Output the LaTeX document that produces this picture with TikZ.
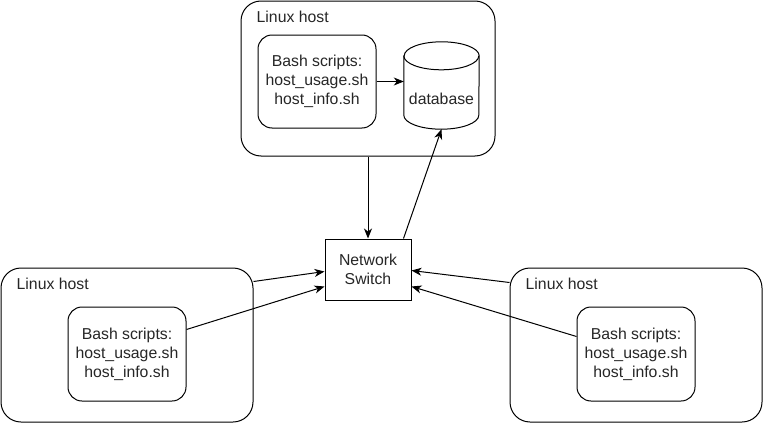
\documentclass[tikz,border=0pt]{standalone}
\usepackage{fontspec}
\setmainfont{Liberation Sans}
\usetikzlibrary{calc,arrows.meta}
\begin{document}
\begin{tikzpicture}[x=1pt,y=-1pt,
  every node/.style={font=\fontsize{15.8}{19}\selectfont, text=black!85},
  host/.style={draw, line width=1pt, rounded corners=20pt, minimum width=#1, minimum height=154pt, inner sep=0pt},
  bash/.style={draw, line width=1pt, rounded corners=14pt, minimum width=118pt, minimum height=93pt, align=center, inner sep=0pt},
  swbox/.style={draw, line width=1pt, minimum width=86pt, minimum height=61pt, align=center, inner sep=0pt},
  lbl/.style={anchor=west, inner sep=0pt},
  conn/.style={line width=1pt, -{Stealth[length=10pt,width=8pt,inset=3pt]}}
]
\useasboundingbox (0,0) rectangle (763,423);

% hosts
\node[host=254pt, minimum height=155pt] (th) at (368,78.5) {};
\node[host=252pt] (lh) at (127,345) {};
\node[host=252pt] (rh) at (636,345) {};

\node[lbl] at ($(th.north west)+(16,16)$) {Linux host};
\node[lbl] at ($(lh.north west)+(16,16)$) {Linux host};
\node[lbl] at ($(rh.north west)+(16,16)$) {Linux host};

% bash boxes
\node[bash] (tb) at (317,81.5) {Bash scripts:\\host\_usage.sh\\host\_info.sh};
\node[bash, minimum height=94pt] (lb) at (127,354) {Bash scripts:\\host\_usage.sh\\host\_info.sh};
\node[bash, minimum height=94pt] (rb) at (636,354) {Bash scripts:\\host\_usage.sh\\host\_info.sh};

% database cylinder
\node[minimum width=75pt, minimum height=87pt, inner sep=0pt] (db) at (441.5,85.5) {};
\draw[line width=1pt, fill=white]
  ($(db.north west)+(0,14)$) -- ($(db.south west)+(0,-14)$)
  arc[start angle=180, end angle=360, x radius=37.5pt, y radius=14pt]
  -- ($(db.north east)+(0,14)$)
  arc[start angle=0, end angle=180, x radius=37.5pt, y radius=14pt] -- cycle;
\draw[line width=1pt] ($(db.north west)+(0,14)$)
  arc[start angle=180, end angle=360, x radius=37.5pt, y radius=14pt];
\node at ($(db.center)+(0,13)$) {database};

% switch
\node[swbox] (sw) at (368,269.5) {Network\\Switch};

% connectors
\draw[conn] (tb.east) -- (tb.east -| db.west);
\draw[conn] (th.south) -- (sw.north);
\draw[conn] ($(sw.north east)+(-8,0)$) -- (db.south);
\draw[conn] ($(lh.north east)+(0,14)$) -- ($(sw.north west)+(0,33)$);
\draw[conn] ($(lb.north east)+(0,23)$) -- ($(sw.north west)+(0,48)$);
\draw[conn] ($(rh.north west)+(0,15)$) -- ($(sw.north east)+(0,32)$);
\draw[conn] ($(rb.north west)+(0,30)$) -- ($(sw.north east)+(0,48)$);
\end{tikzpicture}
\end{document}
